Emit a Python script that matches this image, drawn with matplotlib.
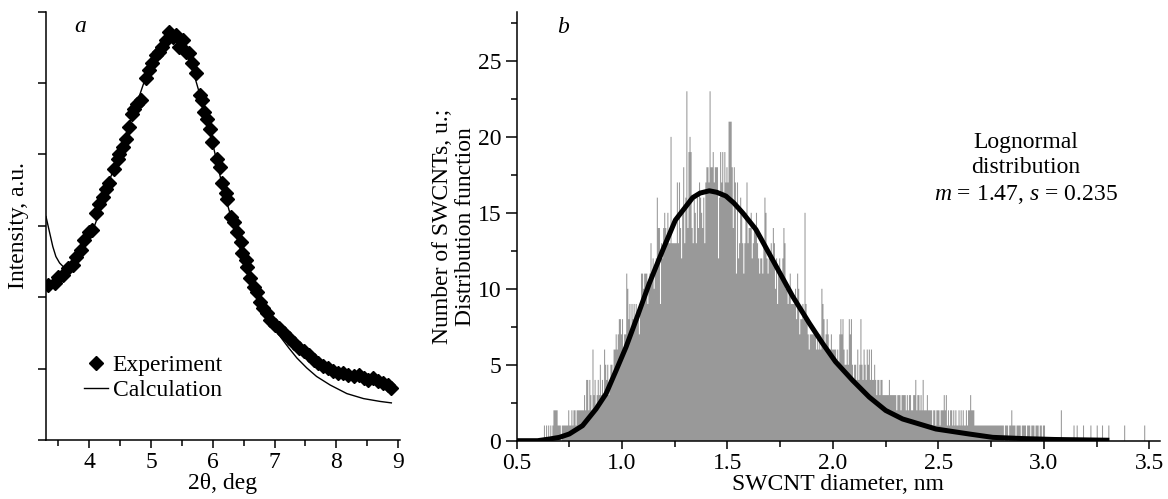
import numpy as np
import matplotlib
matplotlib.use("Agg")
import matplotlib.pyplot as plt
from matplotlib.lines import Line2D
from matplotlib.ticker import MultipleLocator

plt.rcParams['font.family'] = ['Liberation Serif', 'DejaVu Serif']
plt.rcParams['mathtext.fontset'] = 'custom'
plt.rcParams['mathtext.rm'] = 'Liberation Serif'
plt.rcParams['mathtext.it'] = 'Liberation Serif:italic'

# ---------------- panel a: XRD ----------------
exp_2theta = [3.33, 3.44, 3.49, 3.57, 3.65, 3.73, 3.79, 3.87, 3.92, 4.00, 4.05, 4.11,
              4.16, 4.22, 4.27, 4.32, 4.40, 4.46, 4.48, 4.54, 4.59, 4.65, 4.70, 4.73,
              4.78, 4.83, 4.92, 4.97, 5.02, 5.08, 5.13, 5.18, 5.24, 5.29, 5.35, 5.40,
              5.45, 5.51, 5.56, 5.61, 5.67, 5.72, 5.80, 5.83, 5.86, 5.91, 5.96, 5.99,
              6.07, 6.12, 6.15, 6.21, 6.23, 6.29, 6.34, 6.39, 6.45, 6.47, 6.53, 6.55,
              6.61, 6.66, 6.72, 6.77, 6.82, 6.88, 6.93, 7.01, 7.07, 7.15, 7.23, 7.31,
              7.39, 7.47, 7.55, 7.63, 7.71, 7.79, 7.87, 7.95, 8.03, 8.11, 8.19, 8.28,
              8.36, 8.44, 8.52, 8.60, 8.68, 8.76, 8.84, 8.89]
exp_intensity = [2.17, 2.20, 2.29, 2.31, 2.41, 2.45, 2.57, 2.66, 2.80, 2.92, 2.94, 3.18,
                 3.30, 3.41, 3.51, 3.60, 3.79, 3.93, 4.00, 4.11, 4.21, 4.39, 4.56, 4.63,
                 4.70, 4.77, 5.07, 5.19, 5.28, 5.40, 5.44, 5.51, 5.61, 5.72, 5.65, 5.68,
                 5.51, 5.61, 5.44, 5.42, 5.28, 5.14, 4.84, 4.77, 4.60, 4.49, 4.35, 4.18,
                 3.93, 3.83, 3.60, 3.46, 3.37, 3.13, 3.06, 2.92, 2.78, 2.62, 2.52, 2.43,
                 2.27, 2.15, 2.08, 1.94, 1.85, 1.78, 1.68, 1.61, 1.57, 1.50, 1.43, 1.36,
                 1.29, 1.24, 1.19, 1.12, 1.08, 1.03, 1.01, 0.96, 0.94, 0.94, 0.91, 0.89,
                 0.91, 0.87, 0.84, 0.87, 0.82, 0.80, 0.77, 0.73]
calc_2theta = [3.30, 3.36, 3.41, 3.46, 3.52, 3.60, 3.71, 3.81, 3.92, 4.03, 4.14, 4.24,
               4.35, 4.46, 4.57, 4.67, 4.78, 4.89, 5.00, 5.10, 5.21, 5.29, 5.37, 5.48,
               5.59, 5.69, 5.80, 5.91, 6.02, 6.12, 6.23, 6.34, 6.45, 6.55, 6.66, 6.77,
               6.88, 6.98, 7.09, 7.23, 7.36, 7.52, 7.68, 7.90, 8.17, 8.44, 8.71, 8.89]
calc_intensity = [3.13, 2.90, 2.71, 2.57, 2.48, 2.41, 2.45, 2.57, 2.71, 2.87, 3.13, 3.41,
                  3.69, 3.95, 4.21, 4.49, 4.74, 5.02, 5.28, 5.47, 5.63, 5.68, 5.63, 5.54,
                  5.37, 5.14, 4.81, 4.44, 4.07, 3.69, 3.32, 2.99, 2.66, 2.38, 2.15, 1.94,
                  1.75, 1.59, 1.45, 1.29, 1.15, 1.01, 0.89, 0.77, 0.65, 0.58, 0.54, 0.52]

# ---------------- panel b: SWCNT diameter histogram ----------------
hist_start = 0.5     # nm, left edge of first bin
hist_width = 0.005   # nm, bin width
swcnt_counts = [
    0, 0, 0, 0, 0, 0, 0, 0, 0, 0,
    0, 0, 0, 0, 0, 0, 0, 0, 0, 0,
    0, 0, 0, 0, 0, 0, 1, 0, 1, 0,
    1, 0, 1, 0, 1, 2, 2, 2, 2, 1,
    1, 1, 0, 1, 1, 1, 1, 1, 1, 2,
    1, 1, 2, 1, 2, 2, 1, 2, 2, 2,
    2, 2, 2, 2, 3, 2, 4, 4, 2, 4,
    3, 2, 6, 3, 4, 2, 3, 4, 3, 5,
    3, 4, 3, 6, 5, 4, 5, 3, 4, 5,
    5, 4, 6, 6, 7, 6, 7, 8, 8, 7,
    8, 6, 7, 7, 11, 10, 8, 9, 7, 9,
    8, 9, 8, 9, 8, 8, 7, 9, 11, 11,
    10, 11, 11, 11, 9, 10, 11, 13, 11, 12,
    10, 11, 12, 16, 14, 14, 9, 13, 12, 14,
    15, 14, 13, 15, 13, 13, 20, 13, 13, 13,
    13, 13, 17, 13, 17, 14, 12, 15, 18, 13,
    16, 23, 14, 19, 20, 19, 14, 13, 16, 15,
    13, 16, 14, 17, 16, 15, 14, 16, 13, 17,
    18, 18, 17, 23, 18, 18, 19, 17, 18, 18,
    18, 12, 16, 19, 17, 19, 16, 19, 17, 18,
    17, 21, 21, 21, 18, 14, 18, 17, 11, 17,
    12, 13, 16, 15, 13, 11, 13, 15, 17, 13,
    14, 14, 15, 12, 13, 14, 14, 15, 13, 12,
    11, 12, 12, 11, 13, 16, 15, 12, 11, 12,
    12, 13, 12, 14, 13, 10, 12, 9, 11, 12,
    11, 11, 12, 14, 13, 10, 10, 9, 10, 11,
    9, 9, 9, 9, 10, 8, 11, 10, 7, 8,
    8, 9, 8, 15, 9, 8, 7, 6, 7, 7,
    7, 7, 7, 7, 6, 7, 6, 7, 6, 10,
    9, 8, 6, 7, 8, 7, 6, 6, 7, 6,
    6, 6, 6, 5, 6, 5, 7, 8, 7, 8,
    6, 5, 5, 6, 5, 8, 7, 8, 5, 4,
    5, 5, 4, 6, 4, 5, 8, 5, 4, 6,
    5, 4, 6, 5, 6, 4, 6, 4, 4, 5,
    4, 3, 4, 4, 3, 4, 4, 3, 3, 3,
    3, 3, 3, 4, 3, 3, 3, 3, 3, 3,
    2, 3, 3, 3, 2, 3, 3, 3, 3, 2,
    3, 2, 3, 3, 2, 2, 3, 3, 4, 2,
    3, 3, 2, 3, 2, 4, 2, 2, 2, 3,
    2, 2, 2, 2, 1, 2, 2, 1, 2, 2,
    2, 1, 2, 2, 2, 3, 2, 3, 1, 2,
    1, 2, 2, 1, 2, 1, 2, 1, 1, 2,
    1, 2, 1, 2, 1, 1, 2, 1, 2, 2,
    3, 2, 2, 2, 1, 1, 1, 1, 1, 1,
    1, 1, 1, 1, 1, 1, 1, 1, 1, 1,
    1, 1, 1, 1, 1, 1, 1, 1, 1, 1,
    1, 1, 0, 1, 1, 1, 0, 1, 1, 2,
    1, 1, 1, 0, 1, 1, 1, 1, 0, 1,
    1, 1, 1, 0, 1, 1, 1, 0, 1, 1,
    1, 0, 1, 1, 1, 0, 1, 1, 0, 1,
    1, 0, 0, 0, 0, 0, 0, 0, 0, 0,
    0, 0, 0, 0, 0, 0, 2, 0, 0, 0,
    0, 0, 0, 0, 0, 0, 0, 0, 1, 0,
    0, 1, 0, 0, 0, 0, 0, 1, 0, 0,
    0, 0, 0, 0, 1, 0, 0, 0, 0, 0,
    1, 0, 0, 0, 0, 1, 0, 0, 0, 0,
    0, 1, 0, 0, 0, 0, 0, 0, 0, 0,
    0, 0, 0, 0, 0, 0, 1, 0, 0, 0,
    0, 0, 0, 0, 0, 0, 0, 0, 0, 0,
    0, 0, 0, 0, 0, 1, 0, 0, 0, 0,
]
fit_diameter = [0.50, 0.60, 0.656, 0.703, 0.750, 0.813, 0.877, 0.924, 0.972, 1.019,
                1.066, 1.129, 1.193, 1.253, 1.335, 1.37, 1.414, 1.45, 1.493, 1.53,
                1.572, 1.635, 1.73, 1.809, 1.888, 1.951, 2.012, 2.093, 2.172, 2.25,
                2.33, 2.488, 2.646, 2.757, 2.90, 3.05, 3.31]
fit_value = [0.0, 0.0, 0.11, 0.22, 0.44, 0.99, 2.09, 3.08, 4.62, 6.16,
             7.92, 10.34, 12.54, 14.52, 16.0, 16.3, 16.45, 16.35, 16.1, 15.65,
             15.0, 13.9, 11.5, 9.5, 7.73, 6.4, 5.2, 3.97, 2.87, 1.99,
             1.43, 0.77, 0.44, 0.22, 0.14, 0.08, 0.03]

xticks_a = [4, 5, 6, 7, 8, 9]
xticks_b = [0.5, 1.0, 1.5, 2.0, 2.5, 3.0, 3.5]
yticks_b = [0, 5, 10, 15, 20, 25]

W, H = 1168, 499
fig = plt.figure(figsize=(W / 100, H / 100), dpi=100)

FS = 17
# ---- panel a ----
ax1 = fig.add_axes([46 / W, 1 - 440 / H, 354 / W, (440 - 11.7) / H])
ax1.plot(calc_2theta, calc_intensity, color='black', lw=1.0, zorder=2)
ax1.plot(exp_2theta, exp_intensity, linestyle='none', marker='D', ms=7.5,
         color='black', zorder=3)
ax1.set_xlim(3.30, 9.03)
ax1.set_ylim(0, 6)
ax1.set_xticks(xticks_a)
ax1.xaxis.set_minor_locator(MultipleLocator(0.5))
ax1.set_yticks([0, 1, 2, 3, 4, 5, 6])
ax1.set_yticklabels([])
ax1.spines['top'].set_visible(False)
ax1.spines['right'].set_visible(False)
ax1.set_xlabel('2θ, deg', fontsize=FS, labelpad=0)
ax1.set_ylabel('Intensity, a.u.', fontsize=FS, labelpad=3)
ax1.text(0.096, 0.965, 'a', transform=ax1.transAxes, fontsize=FS, style='italic',
         ha='center', va='center')
handles = [Line2D([], [], linestyle='none', marker='D', ms=7.5, color='black'),
           Line2D([], [], color='black', lw=1.0)]
ax1.legend(handles, ['Experiment', 'Calculation'], loc='upper left',
           bbox_to_anchor=(0.108, 0.20), frameon=False, fontsize=FS,
           handlelength=1.0, handletextpad=0.2, labelspacing=0.15, borderpad=0,
           borderaxespad=0)

# ---- panel b ----
ax2 = fig.add_axes([516.5 / W, 1 - 440.7 / H, (1160 - 516.5) / W, (440.7 - 12.3) / H])
edges = hist_start + hist_width * np.arange(len(swcnt_counts) + 1)
ax2.stairs(swcnt_counts, edges, fill=True, color='#999999', lw=0, zorder=1)
ax2.plot(fit_diameter, fit_value, color='black', lw=3.6, zorder=3,
         solid_capstyle='butt')
ax2.set_xlim(0.5, 3.55)
ax2.set_ylim(0, 28.2)
ax2.set_xticks(xticks_b)
ax2.set_xticklabels([f'{v:.1f}' for v in xticks_b])
ax2.xaxis.set_minor_locator(MultipleLocator(0.25))
ax2.set_yticks(yticks_b)
ax2.yaxis.set_minor_locator(MultipleLocator(2.5))
ax2.spines['top'].set_visible(False)
ax2.spines['right'].set_visible(False)
ax2.set_xlabel('SWCNT diameter, nm', fontsize=FS, labelpad=0)
ax2.set_ylabel('Number of SWCNTs, u.;\nDistribution function', fontsize=FS,
               labelpad=1, linespacing=1.15)
ax2.text(0.0725, 0.965, 'b', transform=ax2.transAxes, fontsize=FS, style='italic',
         ha='center', va='center')
ax2.text(0.791, 0.634, 'Lognormal\ndistribution\n$m$ = 1.47, $s$ = 0.235',
         transform=ax2.transAxes, fontsize=FS, ha='center', va='center',
         linespacing=1.27)

for ax in (ax1, ax2):
    for sp in ('left', 'bottom'):
        ax.spines[sp].set_linewidth(1.1)
    ax.tick_params(which='major', direction='out', length=6, width=1.1,
                   labelsize=FS, pad=3)
    ax.tick_params(which='minor', direction='out', length=4, width=1.1)
ax1.tick_params(axis='y', which='major', length=6)
ax2.tick_params(axis='y', which='major', length=8)

fig.savefig('out.png', dpi=100)
